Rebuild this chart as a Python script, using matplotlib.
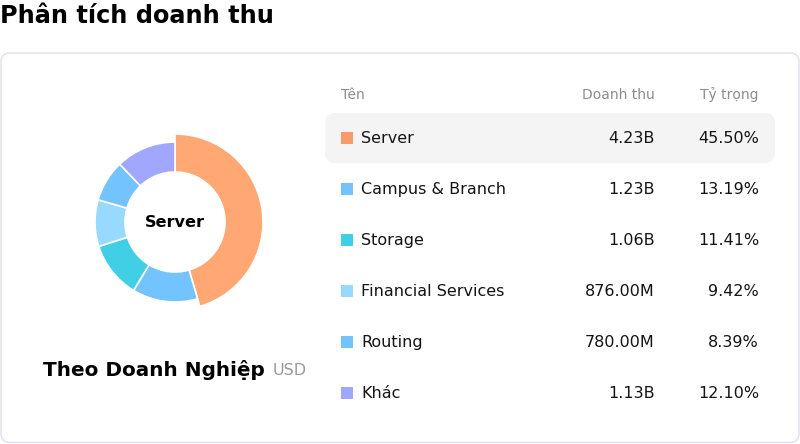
import matplotlib.pyplot as plt
from matplotlib.patches import FancyBboxPatch, Rectangle

plt.rcParams['font.family'] = ['DejaVu Sans']

# data
segments = ['Server', 'Campus & Branch', 'Storage', 'Financial Services', 'Routing', 'Khác']
revenue = [4.23e9, 1.23e9, 1.06e9, 876.00e6, 780.00e6, 1.13e9]
revenue_labels = ['4.23B', '1.23B', '1.06B', '876.00M', '780.00M', '1.13B']
share = [45.50, 13.19, 11.41, 9.42, 8.39, 12.10]
headers = ['Tên', 'Doanh thu', 'Tỷ trọng']

pie_colors = ['#FFA873', '#73C3FF', '#41CFE5', '#98D9FF', '#73C3FF', '#A1A6FF']
legend_colors = ['#FA9A6A', '#73C3FF', '#41CFE5', '#98D9FF', '#73C3FF', '#A1A6FF']

W, H = 800, 444
fig = plt.figure(figsize=(W / 100, H / 100), dpi=100)
ax = fig.add_axes([0, 0, 1, 1])
ax.set_xlim(0, W)
ax.set_ylim(H, 0)
ax.axis('off')

# title
ax.text(0, 16, 'Phân tích doanh thu', fontsize=17.3, fontweight='bold',
        va='center', ha='left', color='#000000')

# card
card = FancyBboxPatch((1, 53), 798, 389.5, boxstyle='round,pad=0,rounding_size=9',
                      facecolor='white', edgecolor='#E0E0EC', linewidth=1)
ax.add_patch(card)

# highlighted row
hl = FancyBboxPatch((325, 113), 450, 50, boxstyle='round,pad=0,rounding_size=10',
                    facecolor='#F4F4F4', edgecolor='none')
ax.add_patch(hl)

# table header
ax.text(341, 95, headers[0], fontsize=10, color='#8C8C8C', va='center', ha='left')
ax.text(655, 95, headers[1], fontsize=10, color='#8C8C8C', va='center', ha='right')
ax.text(759, 95, headers[2], fontsize=10, color='#8C8C8C', va='center', ha='right')

# table rows
for i, name in enumerate(segments):
    y = 138 + 51 * i
    ax.add_patch(Rectangle((341, y - 6), 12, 12, facecolor=legend_colors[i], edgecolor='none'))
    ax.text(361, y, name, fontsize=11.5, color='#141414', va='center', ha='left')
    ax.text(655, y, revenue_labels[i], fontsize=11.5, color='#141414', va='center', ha='right')
    ax.text(759, y, f'{share[i]:.2f}%', fontsize=11.5, color='#141414', va='center', ha='right')

# bottom caption
ax.text(43, 370, 'Theo Doanh Nghiệp', fontsize=14.4, fontweight='bold',
        color='#000000', va='center', ha='left')
ax.text(273, 370, 'USD', fontsize=11.5, color='#999999', va='center', ha='left')

# donut
cx, cy, size = 175, 222, 200
pax = fig.add_axes([(cx - size / 2) / W, (H - cy - size / 2) / H, size / W, size / H])
wedges, _ = pax.pie(revenue, colors=pie_colors, startangle=90, counterclock=False,
                    radius=1.0, wedgeprops=dict(width=0.375, edgecolor='white', linewidth=1.2))
# the active slice is drawn a bit bigger
wedges[0].set_radius(1.1)
wedges[0].set_width(1.1 - 0.625)
pax.set_xlim(-1.25, 1.25)
pax.set_ylim(-1.25, 1.25)
pax.set_aspect('equal')
pax.axis('off')
pax.text(0, 0, 'Server', fontsize=11.6, fontweight='bold', ha='center', va='center', color='#000000')

fig.savefig('out.png', dpi=100)
